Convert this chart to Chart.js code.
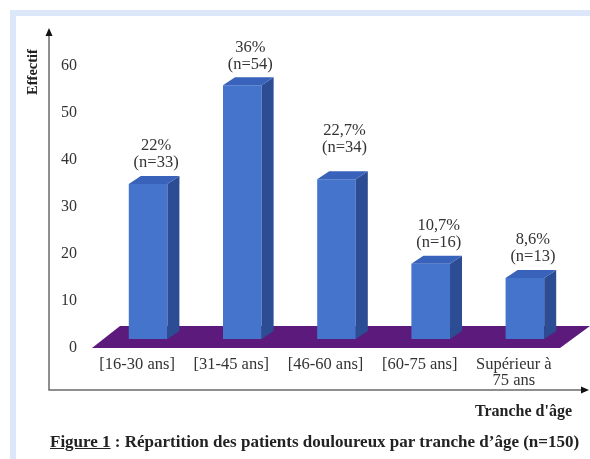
<!DOCTYPE html>
<html>
<head>
<meta charset="utf-8">
<script src="https://cdn.jsdelivr.net/npm/chart.js@4/dist/chart.umd.min.js"></script>
<style>
  html, body { margin: 0; padding: 0; background: #fff; }
  #wrap { position: relative; width: 590px; height: 459px; overflow: hidden; }
  #frame { position: absolute; left: 10px; top: 10px; right: -20px; bottom: -20px;
           border-left: 6px solid #dde7fa; border-top: 6px solid #dde7fa; }
  canvas { position: absolute; left: 0; top: 0; }
  #caption { position: absolute; left: 50px; top: 432px; font: bold 17px "Liberation Serif", serif;
             color: #222; white-space: nowrap; line-height: 20px; }
  #caption u { text-decoration: underline; }
</style>
</head>
<body>
<div id="wrap">
  <div id="frame"></div>
  <canvas id="chart" width="590" height="459"></canvas>
  <div id="caption"><u>Figure 1</u> : Répartition des patients douloureux par tranche d’âge (n=150)</div>
</div>
<script>
const ageGroups = ['[16-30 ans]', '[31-45 ans]', '[46-60 ans]', '[60-75 ans]', ['Supérieur à', '75 ans']];
const patients = [33, 54, 34, 16, 13];
const percents = ['22%', '36%', '22,7%', '10,7%', '8,6%'];
const yTicks = [0, 10, 20, 30, 40, 50, 60];

const FRONT = '#4574cc';
const SIDE = '#2c4c94';
const TOP = '#3962bb';
const FLOOR = '#5c1b7c';
const DEPTH_X = 12, DEPTH_Y = 8;

// floor, bar sides and tops, axis arrows, value labels
const bar3d = {
    id: 'bar3d',
    beforeDatasetsDraw(chart) {
        const {ctx, chartArea} = chart;
        const base = chart.scales.y.getPixelForValue(0);
        ctx.save();
        ctx.fillStyle = FLOOR;
        ctx.beginPath();
        ctx.moveTo(chartArea.left - 9, base + 9);
        ctx.lineTo(chartArea.right - 12, base + 9);
        ctx.lineTo(chartArea.right + 18, base - 13);
        ctx.lineTo(chartArea.left + 19, base - 13);
        ctx.closePath();
        ctx.fill();
        ctx.restore();
    },
    afterDatasetsDraw(chart, args, opts) {
        const {ctx} = chart;
        const meta = chart.getDatasetMeta(0);
        ctx.save();
        meta.data.forEach((bar, i) => {
            const {x, y, base, width} = bar.getProps(['x', 'y', 'base', 'width'], true);
            const l = x - width / 2, r = x + width / 2;
            ctx.fillStyle = SIDE;
            ctx.beginPath();
            ctx.moveTo(r, y);
            ctx.lineTo(r + DEPTH_X, y - DEPTH_Y);
            ctx.lineTo(r + DEPTH_X, base - DEPTH_Y);
            ctx.lineTo(r, base);
            ctx.closePath();
            ctx.fill();
            ctx.fillStyle = TOP;
            ctx.beginPath();
            ctx.moveTo(l, y);
            ctx.lineTo(l + DEPTH_X, y - DEPTH_Y);
            ctx.lineTo(r + DEPTH_X, y - DEPTH_Y);
            ctx.lineTo(r, y);
            ctx.closePath();
            ctx.fill();

            // value labels
            const lift = 21 + (opts.extraLift[i] || 0);
            ctx.fillStyle = '#333';
            ctx.font = '16.5px "Liberation Serif", serif';
            ctx.textAlign = 'center';
            ctx.textBaseline = 'middle';
            ctx.fillText('(n=' + patients[i] + ')', x + 8, y - lift);
            ctx.fillText(percents[i], x + 8, y - lift - 17);
        });

        // axes with arrows
        ctx.strokeStyle = '#6a6a6a';
        ctx.lineWidth = 1.5;
        ctx.beginPath();
        ctx.moveTo(49, 34);
        ctx.lineTo(49, 390);
        ctx.lineTo(583, 390);
        ctx.stroke();
        ctx.fillStyle = '#111';
        ctx.beginPath();
        ctx.moveTo(49, 28);
        ctx.lineTo(45.5, 36);
        ctx.lineTo(52.5, 36);
        ctx.closePath();
        ctx.fill();
        ctx.beginPath();
        ctx.moveTo(589, 390);
        ctx.lineTo(581, 386.5);
        ctx.lineTo(581, 393.5);
        ctx.closePath();
        ctx.fill();

        // y axis name
        ctx.save();
        ctx.translate(33, 72);
        ctx.rotate(-Math.PI / 2);
        ctx.font = 'bold 14.5px "Liberation Serif", serif';
        ctx.fillStyle = '#222';
        ctx.textAlign = 'center';
        ctx.textBaseline = 'middle';
        ctx.fillText('Effectif', 0, 0);
        ctx.restore();
        ctx.restore();
    }
};

new Chart(document.getElementById('chart'), {
    type: 'bar',
    data: {
        labels: ageGroups,
        datasets: [{
            data: patients,
            backgroundColor: FRONT,
            borderWidth: 0,
            barPercentage: 0.41,
            categoryPercentage: 1,
        }]
    },
    options: {
        responsive: false,
        animation: false,
        layout: {
            padding: {left: 50, right: 18, top: 32, bottom: 0}
        },
        scales: {
            x: {
                grid: {display: false, drawTicks: false},
                border: {display: false},
                ticks: {
                    padding: 17,
                    labelOffset: -11,
                    maxRotation: 0,
                    color: '#333',
                    font: {family: '"Liberation Serif", serif', size: 16.5, lineHeight: 1.0},
                },
                title: {
                    display: true,
                    text: "Tranche d'âge",
                    align: 'end',
                    color: '#222',
                    font: {family: '"Liberation Serif", serif', size: 16, weight: 'bold'},
                    padding: {top: 0, bottom: 38},
                },
                afterFit: (s) => { s.height = 120; },
            },
            y: {
                min: 0,
                max: 65,
                grid: {display: false, drawTicks: false},
                border: {display: false},
                afterBuildTicks: (s) => { s.ticks = yTicks.map(v => ({value: v})); },
                ticks: {
                    padding: 24,
                    labelOffset: 9,
                    color: '#333',
                    font: {family: '"Liberation Serif", serif', size: 16},
                },
                afterFit: (s) => { s.width = 51; },
            }
        },
        plugins: {
            legend: {display: false},
            tooltip: {enabled: false},
            bar3d: {extraLift: [0, 0, 11, 0, 0]},
        }
    },
    plugins: [bar3d]
});
</script>
</body>
</html>
